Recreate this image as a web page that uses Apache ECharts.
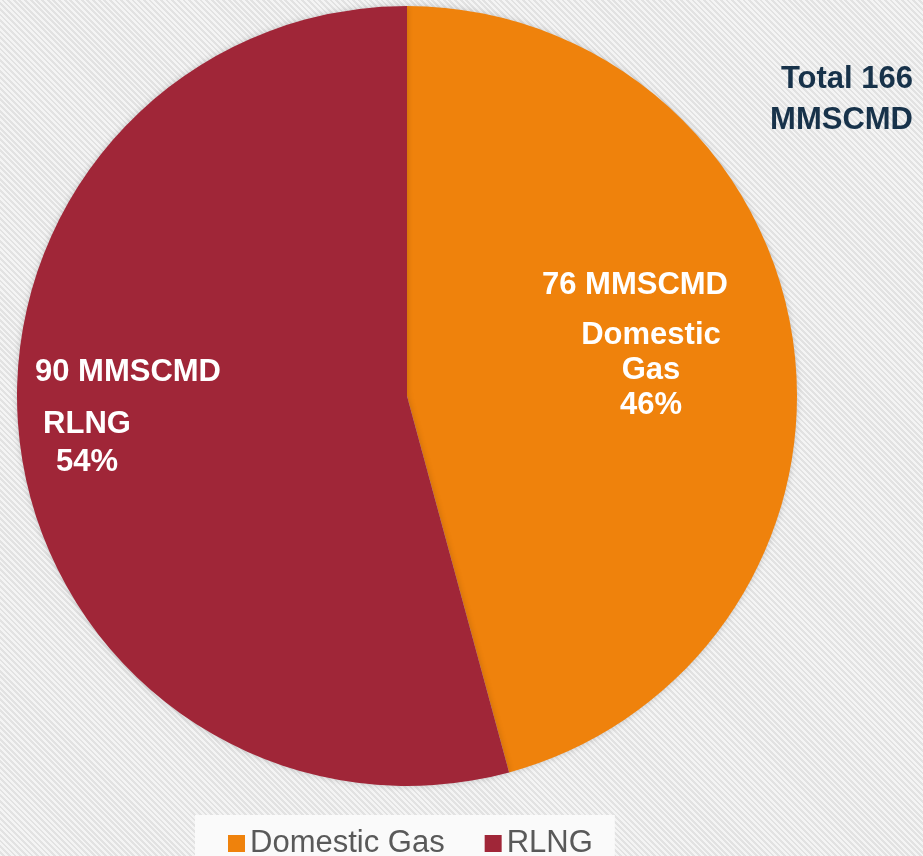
<!DOCTYPE html>
<html>
<head>
<meta charset="utf-8">
<script src="https://cdn.jsdelivr.net/npm/echarts@6/dist/echarts.min.js"></script>
<style>
  html, body { margin: 0; padding: 0; }
  body {
    width: 923px; height: 856px; overflow: hidden;
    background: repeating-linear-gradient(45deg, #f4f4f4 0px, #f4f4f4 2px, #e2e2e2 2px, #e2e2e2 4px);
  }
  #chart { width: 923px; height: 856px; }
</style>
</head>
<body>
<div id="chart"></div>
<script>
// gas supply split, MMSCMD
const categories = ['Domestic Gas', 'RLNG']
const values = [76, 90]
const percents = ['46%', '54%']
const nameLines = [['Domestic', 'Gas'], ['RLNG']]
const colors = ['#EF820C', '#A02638']
const unit = 'MMSCMD'

const total = values.reduce((a, b) => a + b, 0)
const font = "'Liberation Sans', Arial, sans-serif"

// where each label block sits (top centre)
const labelSpots = [
  { x: 651, y: 253 },
  { x: 87, y: 340 }
]
const labelRich = [
  { v: { padding: [0, 32, 0, 0], lineHeight: 65 }, n: { lineHeight: 35 } },
  { v: { padding: [0, 0, 0, 82], lineHeight: 65 }, n: { lineHeight: 38 } }
]

const myChart = echarts.init(document.getElementById('chart'))

const option = {
  backgroundColor: 'transparent',
  title: {
    text: 'Total ' + total + '\n' + unit,
    left: 908,
    top: 54,
    textAlign: 'right',
    padding: [5, 5, 5, 5],
    textStyle: {
      fontFamily: font,
      fontSize: 31,
      fontWeight: 'bold',
      color: '#17324A',
      lineHeight: 41,
      align: 'right'
    }
  },
  legend: {
    data: categories,
    left: 195,
    top: 815,
    padding: [13, 22, 20, 33],
    backgroundColor: '#fafafa',
    icon: 'rect',
    itemWidth: 17,
    itemHeight: 17,
    itemGap: 40,
    textStyle: {
      fontFamily: font,
      fontSize: 31,
      color: '#595959'
    }
  },
  series: [
    {
      type: 'pie',
      center: [407, 396],
      radius: 390,
      startAngle: 90,
      clockwise: true,
      silent: true,
      itemStyle: {
        shadowBlur: 6,
        shadowColor: 'rgba(0,0,0,0.18)'
      },
      labelLine: { show: false },
      label: {
        show: true,
        position: 'inside',
        fontFamily: font,
        fontSize: 31,
        fontWeight: 'bold',
        color: '#ffffff'
      },
      labelLayout: function (params) {
        const s = labelSpots[params.dataIndex]
        return { x: s.x, y: s.y, align: 'center', verticalAlign: 'top' }
      },
      data: categories.map((name, i) => ({
        name: name,
        value: values[i],
        itemStyle: { color: colors[i] },
        label: {
          formatter: ['{v|' + values[i] + ' ' + unit + '}']
            .concat(nameLines[i].map(t => '{n|' + t + '}'))
            .concat(['{n|' + percents[i] + '}'])
            .join('\n'),
          rich: {
            v: Object.assign({ fontSize: 31, fontWeight: 'bold', color: '#fff', fontFamily: font }, labelRich[i].v),
            n: Object.assign({ fontSize: 31, fontWeight: 'bold', color: '#fff', fontFamily: font }, labelRich[i].n)
          }
        }
      }))
    }
  ]
}

myChart.setOption(option)
</script>
</body>
</html>
